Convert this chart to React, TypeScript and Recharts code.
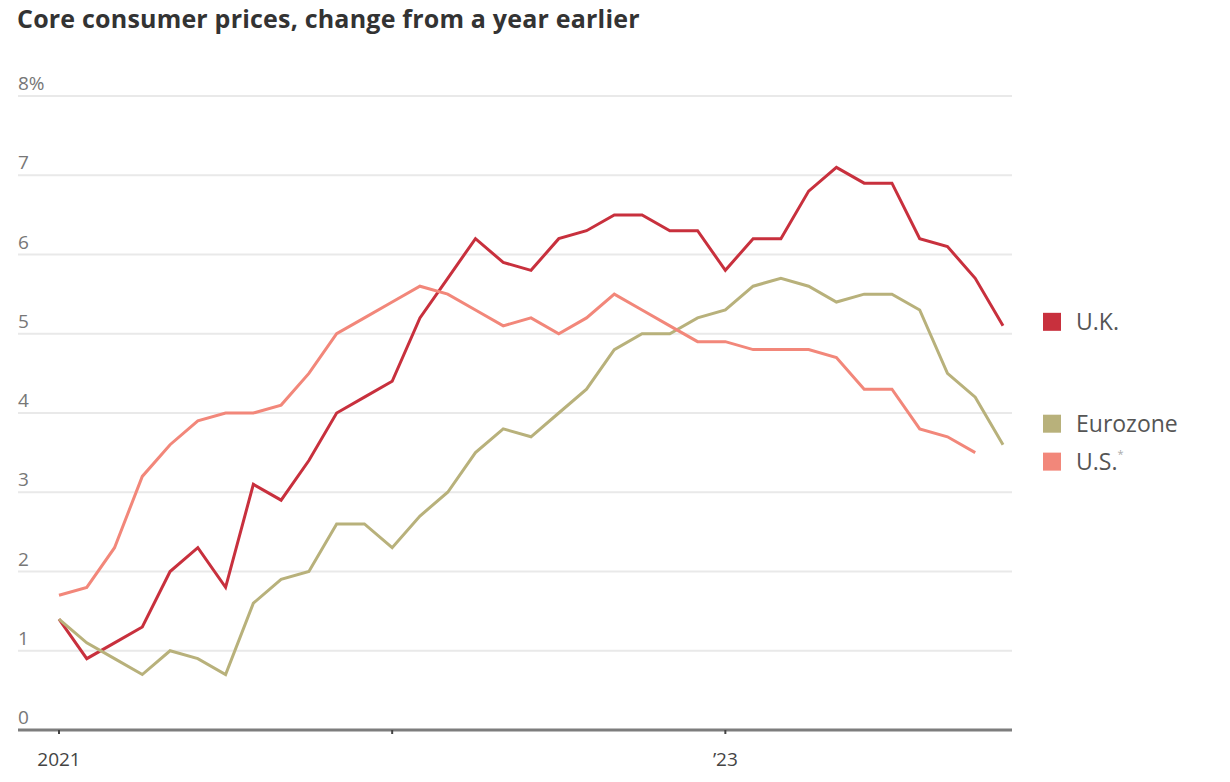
import { CartesianGrid, Line, LineChart, XAxis, YAxis } from "recharts";

const months = [
  "2021-01", "2021-02", "2021-03", "2021-04", "2021-05", "2021-06",
  "2021-07", "2021-08", "2021-09", "2021-10", "2021-11", "2021-12",
  "2022-01", "2022-02", "2022-03", "2022-04", "2022-05", "2022-06",
  "2022-07", "2022-08", "2022-09", "2022-10", "2022-11", "2022-12",
  "2023-01", "2023-02", "2023-03", "2023-04", "2023-05", "2023-06",
  "2023-07", "2023-08", "2023-09", "2023-10", "2023-11",
];

const ukValues = [
  1.4, 0.9, 1.1, 1.3, 2.0, 2.3, 1.8, 3.1, 2.9, 3.4, 4.0, 4.2,
  4.4, 5.2, 5.7, 6.2, 5.9, 5.8, 6.2, 6.3, 6.5, 6.5, 6.3, 6.3,
  5.8, 6.2, 6.2, 6.8, 7.1, 6.9, 6.9, 6.2, 6.1, 5.7, 5.1,
];

const eurozoneValues = [
  1.4, 1.1, 0.9, 0.7, 1.0, 0.9, 0.7, 1.6, 1.9, 2.0, 2.6, 2.6,
  2.3, 2.7, 3.0, 3.5, 3.8, 3.7, 4.0, 4.3, 4.8, 5.0, 5.0, 5.2,
  5.3, 5.6, 5.7, 5.6, 5.4, 5.5, 5.5, 5.3, 4.5, 4.2, 3.6,
];

const usValues = [
  1.7, 1.8, 2.3, 3.2, 3.6, 3.9, 4.0, 4.0, 4.1, 4.5, 5.0, 5.2,
  5.4, 5.6, 5.5, 5.3, 5.1, 5.2, 5.0, 5.2, 5.5, 5.3, 5.1, 4.9,
  4.9, 4.8, 4.8, 4.8, 4.7, 4.3, 4.3, 3.8, 3.7, 3.5, null,
];

const yTicks = [0, 1, 2, 3, 4, 5, 6, 7, 8];
const yTickLabels = ["0", "1", "2", "3", "4", "5", "6", "7", "8%"];
const xTicks = [0, 12, 24];
const xTickLabels: Record<number, string> = { 0: "2021", 12: "", 24: "\u201923" };

const data = months.map((month, i) => ({
  idx: i,
  month,
  uk: ukValues[i],
  ez: eurozoneValues[i],
  us: usValues[i],
}));

const FONT = "'Open Sans', 'Noto Sans', sans-serif";

const series = [
  { key: "uk", name: "U.K.", color: "#c8303d", last: ukValues.length - 1, dy: -4, star: false },
  { key: "ez", name: "Eurozone", color: "#b8b17b", last: eurozoneValues.length - 1, dy: -21, star: false },
  { key: "us", name: "U.S.", color: "#f2877a", last: 33, dy: 9, star: true },
];

function renderYTick(props: any) {
  const { y, payload } = props;
  return (
    <text
      key={`yt-${payload.value}`}
      x={18}
      y={y - 6}
      fill="#777"
      fontSize={19}
      fontFamily={FONT}
      textAnchor="start"
    >
      {yTickLabels[payload.value]}
    </text>
  );
}

function endLabel(s: (typeof series)[number]) {
  return (props: any) => {
    if (props.index !== s.last) return null;
    const y = props.y + s.dy;
    return (
      <g key={`lbl-${s.key}`}>
        <rect x={1043} y={y - 9} width={18} height={18} fill={s.color} />
        <text x={1076} y={y + 8} fill="#555" fontSize={23} fontFamily={FONT}>
          {s.name}
          {s.star && (
            <tspan fontSize={11} fill="#aaa" dy={-12}>
              *
            </tspan>
          )}
        </text>
      </g>
    );
  };
}

export default function App() {
  return (
    <div
      style={{
        position: "fixed",
        left: 0,
        top: 0,
        width: 1230,
        height: 782,
        background: "#fff",
      }}
    >
      <div
        style={{
          position: "absolute",
          left: 17,
          top: 1,
          fontFamily: FONT,
          fontWeight: 700,
          fontSize: 25,
          letterSpacing: 0.2,
          color: "#333",
          whiteSpace: "nowrap",
        }}
      >
        Core consumer prices, change from a year earlier
      </div>
      <LineChart
        width={1230}
        height={782}
        data={data}
        margin={{ top: 96, right: 218, bottom: 12, left: 17 }}
      >
        <CartesianGrid vertical={false} stroke="#e9e9e9" strokeWidth={2} />
        <XAxis
          dataKey="idx"
          type="number"
          domain={[0, 34]}
          ticks={xTicks}
          padding={{ left: 41, right: 9 }}
          height={40}
          axisLine={{ stroke: "#7d7d7d", strokeWidth: 3 }}
          tickLine={{ stroke: "#444", strokeWidth: 2 }}
          tickSize={4}
          tickMargin={19}
          tickFormatter={(v: number) => xTickLabels[v] ?? ""}
          tick={{ fill: "#444", fontSize: 19, fontFamily: FONT }}
        />
        <YAxis
          domain={[0, 8]}
          ticks={yTicks}
          width={1}
          axisLine={false}
          tickLine={false}
          interval={0}
          tick={renderYTick}
        />
        {series.map((s) => (
          <Line
            key={s.key}
            dataKey={s.key}
            stroke={s.color}
            strokeWidth={3}
            dot={false}
            activeDot={false}
            type="linear"
            connectNulls={false}
            isAnimationActive={false}
            label={endLabel(s)}
          />
        ))}
      </LineChart>
    </div>
  );
}
